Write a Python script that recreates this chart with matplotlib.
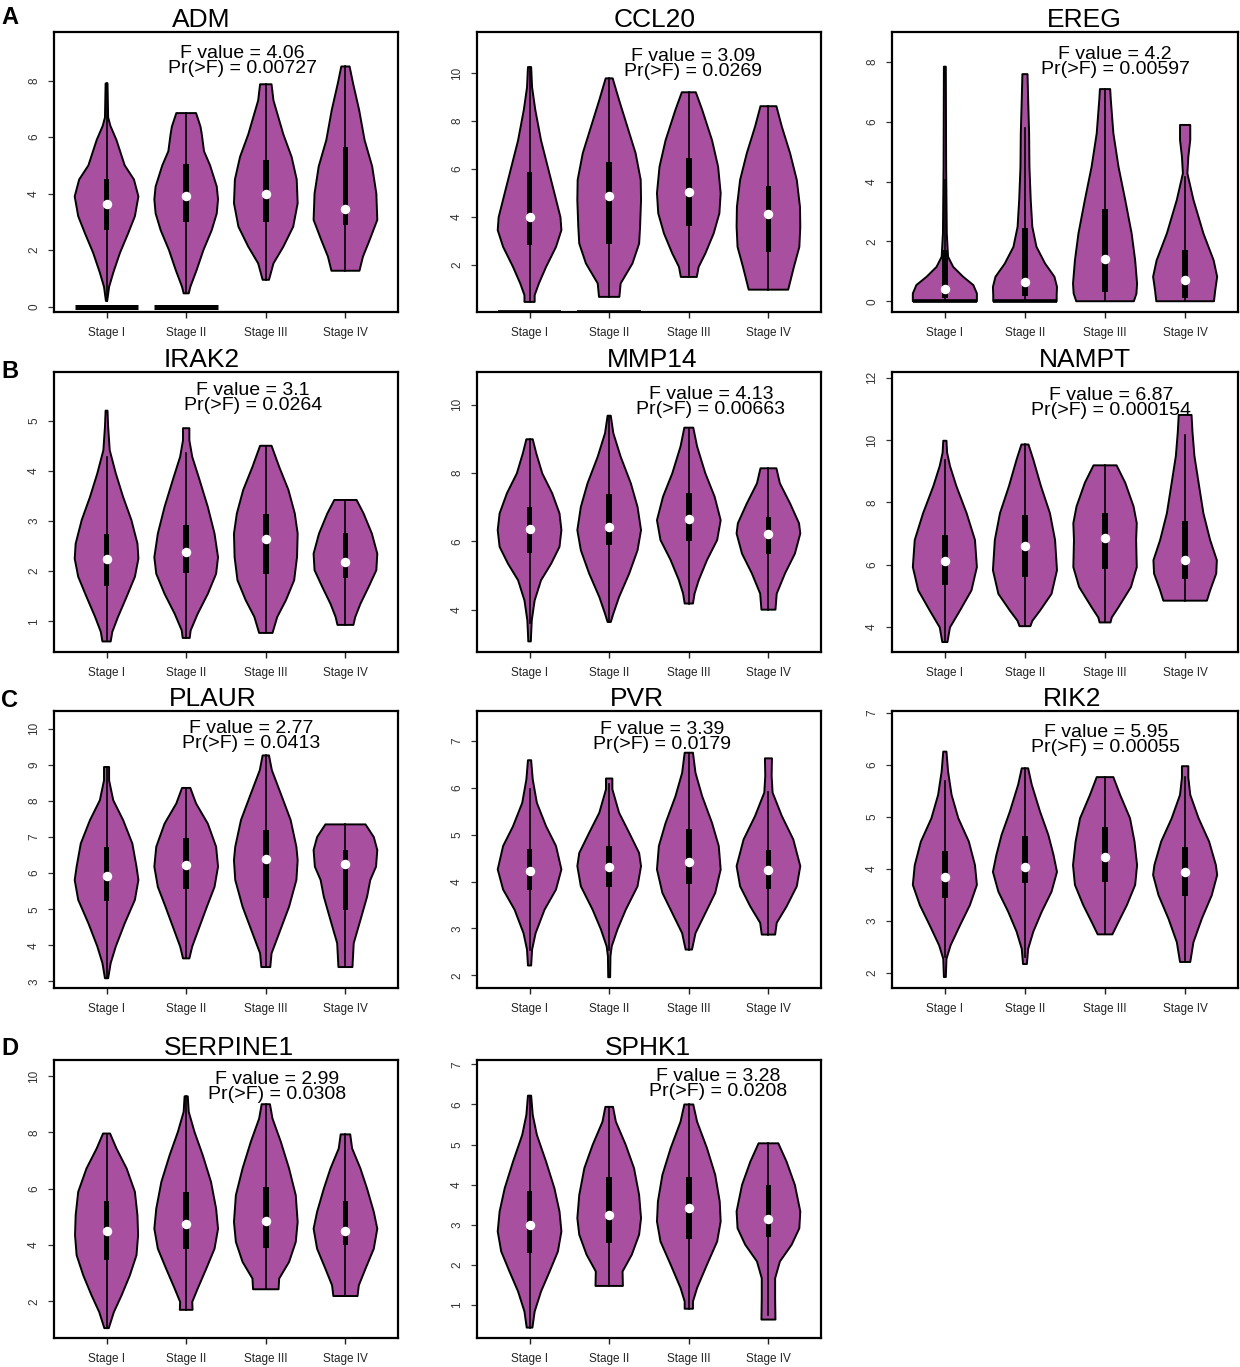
import matplotlib
matplotlib.use("Agg")
import matplotlib.pyplot as plt
import numpy as np

plt.rcParams['font.family'] = ['Liberation Sans', 'DejaVu Sans']

# ---------------- data ----------------
stages = ["Stage I", "Stage II", "Stage III", "Stage IV"]
genes = ["ADM", "CCL20", "EREG", "IRAK2", "MMP14", "NAMPT",
         "PLAUR", "PVR", "RIK2", "SERPINE1", "SPHK1"]
f_values = ["4.06", "3.09", "4.2", "3.1", "4.13", "6.87",
            "2.77", "3.39", "5.95", "2.99", "3.28"]
p_values = ["0.00727", "0.0269", "0.00597", "0.0264", "0.00663", "0.000154",
            "0.0413", "0.0179", "0.00055", "0.0308", "0.0208"]
panel_letters = ["A", "B", "C", "D"]

# violin outlines: (value, relative half-width) pairs, bottom to top, per stage
profile_ADM = [
    [(0.2, .02), (0.7, .08), (1.2, .21), (1.9, .42), (2.6, .68), (3.2, .89), (3.9, 1.0),
     (4.5, .86), (5.0, .57), (5.9, .31), (6.4, .12), (6.7, .05), (7.9, .03)],
    [(0.47, .08), (0.7, .13), (1.3, .33), (2.0, .54), (2.7, .80), (3.3, .96), (3.8, 1.0),
     (4.25, .96), (5.0, .75), (5.5, .56), (6.1, .49), (6.37, .45), (6.85, .31)],
    [(0.95, .10), (1.53, .24), (2.12, .55), (2.83, .86), (3.66, 1.0), (4.5, .97), (5.3, .81),
     (6.1, .55), (7.3, .24), (7.87, .18)],
    [(1.27, .44), (1.77, .55), (2.36, .76), (3.07, 1.0), (4.0, .97), (4.96, .84), (5.9, .60),
     (6.96, .43), (7.9, .24), (8.5, .13)],
]
profile_CCL20 = [
    [(0.47, .16), (0.75, .16), (1.23, .29), (1.93, .52), (2.76, .83), (3.46, 1.0), (4.0, .97),
     (5.0, .78), (6.1, .57), (7.2, .36), (8.47, .18), (9.4, .08), (10.25, .05)],
    [(0.68, .32), (1.24, .36), (2.07, .73), (2.9, .94), (3.6, .97), (4.71, 1.0), (5.55, .99),
     (6.66, .83), (7.77, .57), (8.88, .31), (9.78, .11)],
    [(1.51, .25), (1.93, .31), (2.49, .52), (3.32, .78), (4.16, .96), (5.0, 1.0), (6.1, .92),
     (7.2, .73), (8.47, .42), (9.2, .22)],
    [(0.98, .62), (1.93, .80), (2.76, .97), (3.6, 1.0), (4.43, .99), (5.55, .89), (6.66, .68),
     (7.77, .42), (8.62, .25)],
]
profile_EREG = [
    [(0.0, 1.0), (0.26, 1.0), (0.54, .89), (0.82, .57), (1.15, .26), (1.49, .10), (2.27, .06),
     (4.5, .04), (7.85, .03)],
    [(0.0, .99), (0.2, .99), (0.48, 1.0), (0.82, .92), (1.26, .63), (1.82, .36), (2.49, .23),
     (3.39, .18), (4.5, .14), (5.62, .13), (6.74, .10), (7.6, .08)],
    [(0.0, .90), (0.26, .98), (0.59, 1.0), (1.37, .94), (2.27, .83), (3.39, .63), (4.5, .42),
     (5.62, .26), (6.74, .18), (7.1, .16)],
    [(0.0, .90), (0.37, .94), (0.82, 1.0), (1.37, .89), (2.27, .57), (3.39, .26), (4.28, .07),
     (4.84, .10), (5.4, .16), (5.9, .16)],
]
profile_IRAK2 = [
    [(0.6, .13), (0.79, .18), (1.09, .36), (1.49, .63), (1.89, .89), (2.25, 1.0), (2.55, .97),
     (3.02, .78), (3.48, .52), (3.95, .29), (4.41, .10), (4.88, .05), (5.2, .03)],
    [(0.67, .11), (0.82, .14), (1.15, .36), (1.55, .68), (1.95, .94), (2.28, 1.0), (2.75, .89),
     (3.28, .68), (3.82, .42), (4.28, .19), (4.61, .10), (4.85, .10)],
    [(0.77, .21), (1.09, .36), (1.42, .63), (1.82, .89), (2.28, .98), (2.75, 1.0), (3.15, .91),
     (3.62, .71), (4.08, .42), (4.5, .18)],
    [(0.93, .25), (1.09, .31), (1.35, .47), (1.69, .73), (2.02, .97), (2.35, 1.0), (2.75, .83),
     (3.15, .57), (3.42, .35)],
]
profile_MMP14 = [
    [(3.07, .04), (3.3, .05), (3.69, .07), (4.27, .16), (4.86, .36), (5.35, .68), (5.84, .94),
     (6.33, 1.0), (6.82, .94), (7.41, .71), (7.99, .40), (8.58, .21), (8.99, .10)],
    [(3.64, .05), (3.88, .13), (4.37, .31), (5.06, .63), (5.74, .89), (6.33, 1.0), (7.01, .89),
     (7.7, .68), (8.48, .36), (9.17, .13), (9.68, .05)],
    [(4.18, .13), (4.47, .18), (4.86, .31), (5.45, .57), (6.04, .89), (6.62, 1.0), (7.31, .81),
     (7.99, .52), (8.78, .26), (9.33, .14)],
    [(4.0, .22), (4.47, .26), (5.06, .52), (5.64, .83), (6.23, 1.0), (6.53, .96), (7.11, .68),
     (7.7, .36), (8.14, .25)],
]
profile_NAMPT = [
    [(3.51, .08), (3.98, .16), (4.52, .47), (5.17, .83), (5.92, 1.0), (6.79, .94), (7.65, .68),
     (8.52, .36), (9.17, .16), (9.6, .07), (9.98, .05)],
    [(4.02, .17), (4.19, .23), (4.52, .47), (5.06, .83), (5.82, 1.0), (6.79, .94), (7.65, .78),
     (8.52, .50), (9.38, .26), (9.86, .11)],
    [(4.14, .17), (4.3, .21), (4.63, .42), (5.28, .81), (5.92, .99), (6.79, .97), (7.33, .99),
     (7.87, .89), (8.63, .63), (9.19, .36)],
    [(4.84, .68), (5.17, .78), (5.71, .97), (6.14, .99), (6.79, .78), (7.65, .57), (8.63, .42),
     (9.49, .29), (10.25, .23), (10.81, .20)],
]
profile_PLAUR = [
    [(3.09, .05), (3.51, .13), (3.97, .29), (4.61, .57), (5.26, .89), (5.81, 1.0), (6.18, .94),
     (6.82, .81), (7.47, .52), (8.02, .21), (8.57, .08), (8.94, .08)],
    [(3.64, .10), (3.97, .19), (4.52, .42), (5.07, .65), (5.62, .89), (6.18, 1.0), (6.73, .94),
     (7.37, .68), (7.93, .31), (8.36, .13)],
    [(3.4, .14), (3.78, .18), (4.34, .42), (5.07, .73), (5.81, .96), (6.36, 1.0), (6.73, .96),
     (7.47, .78), (8.2, .47), (8.85, .19), (9.26, .10)],
    [(3.4, .22), (4.06, .26), (4.7, .47), (5.35, .68), (5.81, .78), (6.18, .96), (6.64, 1.0),
     (7.0, .89), (7.35, .63)],
]
profile_PVR = [
    [(2.21, .05), (2.55, .08), (2.9, .19), (3.4, .47), (3.83, .83), (4.26, 1.0), (4.76, .83),
     (5.18, .52), (5.68, .23), (6.18, .10), (6.59, .05)],
    [(1.96, .03), (2.41, .04), (2.62, .08), (2.98, .26), (3.4, .52), (3.9, .89), (4.33, 1.0),
     (4.61, .94), (5.04, .63), (5.47, .31), (5.97, .10), (6.2, .10)],
    [(2.55, .10), (2.9, .21), (3.26, .47), (3.76, .83), (4.26, 1.0), (4.76, .94), (5.25, .73),
     (5.82, .42), (6.32, .21), (6.75, .13)],
    [(2.87, .21), (3.12, .26), (3.47, .57), (3.9, .89), (4.33, 1.0), (4.9, .78), (5.4, .42),
     (5.9, .13), (6.25, .10), (6.63, .11)],
]
profile_RIK2 = [
    [(1.92, .03), (2.27, .05), (2.53, .18), (2.91, .47), (3.3, .78), (3.69, 1.0), (4.07, .94),
     (4.52, .75), (4.97, .42), (5.42, .21), (5.87, .10), (6.25, .05)],
    [(2.17, .06), (2.46, .10), (2.79, .26), (3.17, .52), (3.56, .83), (3.94, 1.0), (4.27, .89),
     (4.65, .73), (5.1, .47), (5.62, .21), (5.93, .10)],
    [(2.74, .23), (2.98, .42), (3.3, .68), (3.69, .94), (4.07, 1.0), (4.52, .92), (4.97, .78),
     (5.42, .47), (5.76, .26)],
    [(2.21, .16), (2.59, .26), (3.04, .52), (3.49, .83), (3.88, 1.0), (4.07, .96), (4.52, .75),
     (4.97, .42), (5.42, .16), (5.75, .10), (5.97, .10)],
]
profile_SERPINE1 = [
    [(1.05, .07), (1.62, .23), (2.21, .47), (2.92, .73), (3.64, .94), (4.35, .99), (5.06, .97),
     (5.89, .89), (6.72, .63), (7.43, .31), (7.96, .11)],
    [(1.7, .20), (1.98, .19), (2.45, .36), (3.16, .63), (3.87, .89), (4.58, 1.0), (5.29, .94),
     (6.24, .78), (7.19, .52), (8.02, .26), (8.73, .08), (9.28, .05)],
    [(2.43, .40), (2.81, .42), (3.4, .73), (4.11, .94), (4.82, 1.0), (5.77, .94), (6.72, .73),
     (7.67, .47), (8.49, .21), (9.0, .13)],
    [(2.19, .38), (2.57, .42), (3.16, .63), (3.87, .89), (4.58, 1.0), (5.18, .89), (6.0, .68),
     (6.72, .47), (7.43, .21), (7.93, .15)],
]
profile_SPHK1 = [
    [(0.43, .09), (0.83, .16), (1.33, .36), (1.83, .63), (2.33, .89), (2.83, 1.0), (3.33, .94),
     (3.91, .78), (4.57, .52), (5.24, .23), (5.74, .10), (6.22, .05)],
    [(1.47, .43), (1.83, .42), (2.25, .71), (2.75, .94), (3.16, 1.0), (3.74, .94), (4.41, .78),
     (4.99, .52), (5.57, .21), (5.94, .12)],
    [(0.9, .13), (1.08, .13), (1.42, .26), (2.0, .57), (2.58, .89), (3.08, 1.0), (3.58, .97),
     (4.24, .83), (4.91, .57), (5.57, .26), (6.0, .14)],
    [(0.63, .22), (1.17, .21), (1.66, .21), (2.08, .36), (2.5, .73), (2.91, .97), (3.33, 1.0),
     (3.99, .83), (4.57, .57), (5.03, .31)],
]
profiles = [profile_ADM, profile_CCL20, profile_EREG, profile_IRAK2, profile_MMP14,
            profile_NAMPT, profile_PLAUR, profile_PVR, profile_RIK2, profile_SERPINE1,
            profile_SPHK1]

# box statistics per gene (4 stages)
q1 = [[2.7, 3.0, 3.0, 2.9], [2.85, 2.9, 3.65, 2.55], [0.1, 0.18, 0.3, 0.1],
      [1.7, 1.97, 1.95, 1.87], [5.65, 5.9, 6.02, 5.63], [5.35, 5.6, 5.85, 5.55],
      [5.22, 5.55, 5.32, 4.97], [3.83, 3.88, 3.95, 3.85], [3.43, 3.72, 3.75, 3.48],
      [3.48, 3.85, 3.9, 4.0], [2.3, 2.55, 2.65, 2.7]]
median = [[3.65, 3.9, 4.0, 3.45], [4.0, 4.9, 5.05, 4.15], [0.4, 0.65, 1.4, 0.7],
          [2.25, 2.38, 2.65, 2.18], [6.35, 6.43, 6.65, 6.23], [6.1, 6.6, 6.85, 6.15],
          [5.92, 6.22, 6.38, 6.25], [4.23, 4.32, 4.42, 4.25], [3.85, 4.03, 4.23, 3.93],
          [4.5, 4.75, 4.85, 4.5], [3.0, 3.25, 3.42, 3.15]]
q3 = [[4.5, 5.05, 5.2, 5.65], [5.9, 6.3, 6.45, 5.3], [1.72, 2.45, 3.1, 1.72],
      [2.75, 2.93, 3.15, 2.77], [7.02, 7.38, 7.42, 6.72], [6.95, 7.6, 7.65, 7.4],
      [6.72, 6.98, 7.2, 6.65], [4.7, 4.75, 5.13, 4.68], [4.35, 4.63, 4.8, 4.42],
      [5.55, 5.9, 6.05, 5.58], [3.85, 4.2, 4.2, 4.0]]
whisker_lo = [[0.2, 0.47, 0.95, 1.27], [0.47, 0.68, 1.51, 0.98], [0.0, 0.0, 0.0, 0.0],
              [0.6, 0.67, 0.77, 0.93], [3.6, 3.64, 4.18, 4.0], [3.51, 4.02, 4.14, 4.84],
              [3.09, 3.64, 3.4, 3.4], [2.55, 2.55, 2.55, 2.87], [2.3, 2.3, 2.74, 2.21],
              [1.05, 1.7, 2.43, 2.19], [0.43, 1.47, 0.9, 0.75]]
whisker_hi = [[7.9, 6.85, 7.87, 8.5], [10.25, 9.78, 9.2, 8.62], [4.05, 5.8, 7.1, 4.15],
              [4.28, 4.35, 4.5, 3.42], [9.0, 9.68, 9.33, 8.14], [9.35, 9.86, 9.19, 10.15],
              [8.94, 8.36, 9.26, 7.35], [5.98, 6.08, 6.75, 5.92], [5.68, 5.93, 5.76, 5.77],
              [7.96, 9.28, 9.0, 7.93], [6.22, 5.94, 6.0, 5.03]]

# separate bars drawn at the bottom of some violins (value, stages)
base_bar_value = {"ADM": 0.0, "CCL20": 0.1, "EREG": 0.0}
base_bar_stages = {"ADM": [1, 2], "CCL20": [1, 2], "EREG": [1, 2]}

y_ticks = [[0, 2, 4, 6, 8], [2, 4, 6, 8, 10], [0, 2, 4, 6, 8], [1, 2, 3, 4, 5],
           [4, 6, 8, 10], [4, 6, 8, 10, 12], [3, 4, 5, 6, 7, 8, 9, 10],
           [2, 3, 4, 5, 6, 7], [2, 3, 4, 5, 6, 7], [2, 4, 6, 8, 10], [1, 2, 3, 4, 5, 6, 7]]

# ---------------- layout / style ----------------
W, H = 1240, 1367
col_left = [54, 477, 892]
col_w = [344, 344, 346]
row_top = [32, 372, 711, 1060]
row_h = [280, 280, 277, 278]
ylims = [(-0.19, 9.72), (0.05, 11.71), (-0.36, 9.01), (0.39, 5.97), (2.76, 10.96),
         (3.19, 12.19), (2.82, 10.49), (1.73, 7.64), (1.71, 7.03), (0.70, 10.57),
         (0.17, 7.11)]
title_x = [.427, .517, .555, .430, .509, .558, .462, .465, .52, .509, .497]
stat_x = [.547, .628, .645, .578, .680, .633, .573, .538, .618, .648, .70]
stat_off = [26, 29, 27, 23, 27, 28, 22, 23, 26, 24, 21]
letter_base = [24, 378, 707, 1055]

VIOLIN = "#A94FA0"
HALF = 0.4

fig = plt.figure(figsize=(W / 100, H / 100), dpi=100)

for gi, gene in enumerate(genes):
    r, c = divmod(gi, 3)
    ax = fig.add_axes([col_left[c] / W, 1 - (row_top[r] + row_h[r]) / H,
                       col_w[c] / W, row_h[r] / H])
    ph = row_h[r]
    for si in range(4):
        pos = si + 1
        prof = np.array(profiles[gi][si])
        yv, wv = prof[:, 0], prof[:, 1] * HALF
        xs = np.concatenate([pos + wv, (pos - wv)[::-1]])
        ys = np.concatenate([yv, yv[::-1]])
        ax.fill(xs, ys, facecolor=VIOLIN, edgecolor="black", linewidth=1.4,
                joinstyle="round", zorder=2)
        ax.plot([pos, pos], [whisker_lo[gi][si], whisker_hi[gi][si]],
                color="black", lw=1.2, zorder=3)
        ax.add_patch(plt.Rectangle((pos - 0.036, q1[gi][si]), 0.072,
                                   q3[gi][si] - q1[gi][si], facecolor="black",
                                   edgecolor="none", zorder=4))
        ax.plot(pos, median[gi][si], "o", color="white", ms=5.8, mec="white", zorder=5)
    if gene in base_bar_value:
        for st in base_bar_stages[gene]:
            bw = 3.6 if gene == "ADM" else (2.6 if gene == "EREG" else 1.2)
            ax.plot([st - HALF, st + HALF], [base_bar_value[gene]] * 2,
                    color="black", lw=bw, solid_capstyle="butt", zorder=6)
    ax.set_xlim(0.34, 4.66)
    ax.set_ylim(*ylims[gi])
    ax.set_xticks([1, 2, 3, 4])
    ax.set_xticklabels(stages)
    ax.set_yticks(y_ticks[gi])
    ax.set_yticklabels([str(t) for t in y_ticks[gi]], rotation=90, va="center")
    ax.tick_params(axis="x", length=4, width=1, labelsize=8.5, pad=7, colors="#222222")
    ax.tick_params(axis="y", length=4, width=0.9, labelsize=8.5, pad=6, colors="#333333")
    for sp in ax.spines.values():
        sp.set_linewidth(1.6)
    ax.text(title_x[gi], 1 + 5 / ph, gene, transform=ax.transAxes, ha="center",
            va="baseline", fontsize=19)
    ax.text(stat_x[gi], 1 - stat_off[gi] / ph, f"F value = {f_values[gi]}",
            transform=ax.transAxes, ha="center", va="baseline", fontsize=14, zorder=7)
    ax.text(stat_x[gi], 1 - (stat_off[gi] + 15) / ph, f"Pr(>F) = {p_values[gi]}",
            transform=ax.transAxes, ha="center", va="baseline", fontsize=14, zorder=7)

for li, letter in enumerate(panel_letters):
    fig.text(1 / W, 1 - letter_base[li] / H, letter, ha="left", va="baseline",
             fontsize=17, fontweight="bold")

fig.savefig("out.png", dpi=100, facecolor="white")
